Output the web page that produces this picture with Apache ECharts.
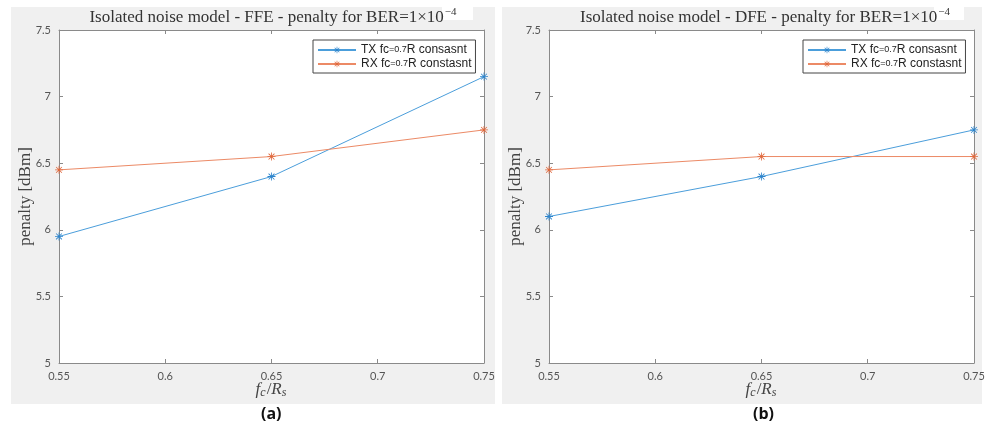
<!DOCTYPE html>
<html>
<head>
<meta charset="utf-8">
<script src="https://cdn.jsdelivr.net/npm/echarts@6/dist/echarts.min.js"></script>
<style>
html,body{margin:0;padding:0;background:#fff;}
#chart{width:988px;height:428px;}
</style>
</head>
<body>
<div id="chart"></div>
<script>
// fc/Rs
var fcRs = [0.55, 0.65, 0.75];
// FFE
var ffeTx = [5.95, 6.40, 7.15];
var ffeRx = [6.45, 6.55, 6.75];
// DFE
var dfeTx = [6.10, 6.40, 6.75];
var dfeRx = [6.45, 6.55, 6.55];

var txName = 'TX fc=0.7R consasnt';
var rxName = 'RX fc=0.7R constasnt';

var blue = '#4b9edb', blueMark = '#2c84cc';
var orange = '#ec8a66', orangeMark = '#e0683c';

// asterisk marker like matlab '*'
var star = 'path://M0,9 L20,9 L20,11 L0,11 Z M9,0 L11,0 L11,20 L9,20 Z M2,3.4 L3.4,2 L18,16.6 L16.6,18 Z M16.6,2 L18,3.4 L3.4,18 L2,16.6 Z';

function pts(ys){
	var out = [];
	for (var i = 0; i < fcRs.length; i++) out.push([fcRs[i], ys[i]]);
	return out;
}

var axisGray = '#8a8a8a';

function xAx(grid, pos){
	var main = pos == 'bottom';
	return {
		type:'value', gridIndex:grid, position:pos, min:0.55, max:0.75, interval:0.05,
		axisLine:{show:true, onZero:false, lineStyle:{color:axisGray}},
		axisTick:{show:true, inside:true, length:4, lineStyle:{color:axisGray}},
		splitLine:{show:false},
		axisLabel:main ? {show:true, margin:8, color:'#555', fontSize:11, fontFamily:'Lato',
			formatter:function(v){ return String(parseFloat(v.toFixed(2))); }} : {show:false},
		name: main ? '{i|f}{s|c}{n|/}{i|R}{s|s}' : '',
		nameLocation:'middle', nameGap:18, nameMoveOverlap:false,
		nameTextStyle:{rich:{
			i:{fontFamily:'Liberation Serif', fontStyle:'italic', fontSize:17, color:'#444'},
			n:{fontFamily:'Liberation Serif', fontSize:17, color:'#444'},
			s:{fontFamily:'Liberation Serif', fontStyle:'italic', fontSize:12, color:'#444', padding:[6,1,0,0]}
		}}
	};
}
function yAx(grid, pos){
	var main = pos == 'left';
	return {
		type:'value', gridIndex:grid, position:pos, min:5, max:7.5, interval:0.5,
		axisLine:{show:true, onZero:false, lineStyle:{color:axisGray}},
		axisTick:{show:true, inside:true, length:4, lineStyle:{color:axisGray}},
		splitLine:{show:false},
		axisLabel:main ? {show:true, margin:8, color:'#555', fontSize:11, fontFamily:'Lato'} : {show:false},
		name: main ? 'penalty [dBm]' : '',
		nameLocation:'middle', nameGap:25, nameMoveOverlap:false,
		nameTextStyle:{fontFamily:'Liberation Serif', fontSize:17, color:'#444'}
	};
}
function line(name, grid, ys, c, mc){
	return {
		name:name, type:'line', xAxisIndex:grid*2, yAxisIndex:grid*2, data:pts(ys),
		symbol:star, symbolSize:8, showAllSymbol:true, animation:false,
		lineStyle:{color:c, width:1},
		itemStyle:{color:mc}
	};
}
function legendAt(left){
	return {
		data:[txName, rxName], orient:'vertical', left:left, top:40,
		itemWidth:38, itemHeight:8, itemGap:2, padding:[4,4,3,4],
		backgroundColor:'#fff', borderColor:'#444', borderWidth:1, borderRadius:0,
		selectedMode:false,
		formatter:function(n){ return n.replace('=0.7', '{s|=0.7}'); },
		textStyle:{fontFamily:'Liberation Sans', fontSize:12, color:'#222',
			rich:{s:{fontFamily:'Liberation Sans', fontSize:9, color:'#222'}}}
	};
}
function titleAt(cx, txt){
	return {
		text:txt + '{sup|−4}', left:cx, top:2, textAlign:'center',
		textStyle:{fontFamily:'Liberation Serif', fontWeight:'normal', fontSize:17, color:'#333',
			rich:{sup:{fontFamily:'Liberation Serif', fontSize:11, color:'#333', padding:[0,0,10,1]}}}
	};
}

var chart = echarts.init(document.getElementById('chart'));
var option = {
	animation:false,
	graphic:[
		{type:'rect', z:-10, shape:{x:11, y:7, width:484, height:397}, style:{fill:'#f0f0f0'}},
		{type:'rect', z:-10, shape:{x:502, y:7, width:480, height:397}, style:{fill:'#f0f0f0'}},
		{type:'rect', z:-9, shape:{x:442, y:3, width:31, height:17}, style:{fill:'#fff'}},
		{type:'rect', z:-9, shape:{x:934, y:3, width:30, height:17}, style:{fill:'#fff'}},
		{type:'text', left:261, top:406, style:{text:'(a)', fontFamily:'Open Sans', fontWeight:'bold', fontSize:16, fill:'#111'}},
		{type:'text', left:753, top:406, style:{text:'(b)', fontFamily:'Open Sans', fontWeight:'bold', fontSize:16, fill:'#111'}}
	],
	title:[
		titleAt(268, 'Isolated noise model - FFE - penalty for BER=1×10'),
		titleAt(760, 'Isolated noise model - DFE - penalty for BER=1×10')
	],
	legend:[legendAt(313), legendAt(803)],
	grid:[
		{left:59, top:30, width:425, height:333, show:true, backgroundColor:'#fff', borderWidth:0},
		{left:549, top:30, width:425, height:333, show:true, backgroundColor:'#fff', borderWidth:0}
	],
	xAxis:[xAx(0,'bottom'), xAx(0,'top'), xAx(1,'bottom'), xAx(1,'top')],
	yAxis:[yAx(0,'left'), yAx(0,'right'), yAx(1,'left'), yAx(1,'right')],
	series:[
		line(txName, 0, ffeTx, blue, blueMark),
		line(rxName, 0, ffeRx, orange, orangeMark),
		line(txName, 1, dfeTx, blue, blueMark),
		line(rxName, 1, dfeRx, orange, orangeMark)
	]
};
chart.setOption(option);
</script>
</body>
</html>
